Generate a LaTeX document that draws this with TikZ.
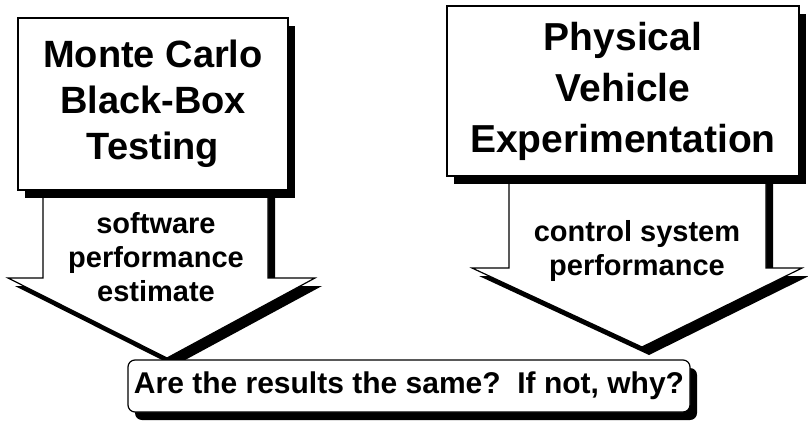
\documentclass[tikz,border=0pt]{standalone}
\usepackage{fontspec}
\setmainfont{Liberation Sans}

\begin{document}
\begin{tikzpicture}[x=1pt, y=-1pt,
  dropfill/.style={fill=black, shift={(7,8)}},
  box/.style={draw, line width=1.2pt, fill=white, align=center, inner sep=0pt},
  arrowbody/.style={draw, line width=1.2pt, fill=white, line join=miter},
  big/.style={font=\fontsize{38}{46}\selectfont\bfseries},
  lbl/.style={align=center, font=\fontsize{29}{34}\selectfont\bfseries}]
  \useasboundingbox (0,0) rectangle (808,428);
  % block arrows first, the boxes sit on top of their shafts
  \path[dropfill] (43,185) -- (268,185) -- (268,278) -- (315,278)
    -- (167,358) -- (8,278) -- (43,278) -- cycle;
  \path[arrowbody] (43,185) -- (268,185) -- (268,278) -- (315,278)
    -- (167,358) -- (8,278) -- (43,278) -- cycle;
  \path[dropfill] (509,170) -- (766,170) -- (766,268) -- (802,268)
    -- (642,347) -- (472,268) -- (509,268) -- cycle;
  \path[arrowbody] (509,170) -- (766,170) -- (766,268) -- (802,268)
    -- (642,347) -- (472,268) -- (509,268) -- cycle;
  \node[lbl] (swp) at (156,257) {software\\performance\\estimate};
  \node[lbl] (csp) at (637,251) {control system\\performance};
  % boxes with their shadows
  \path[dropfill] (18,18) rectangle (288,190);
  \node[box, big, minimum width=270pt, minimum height=172pt] (mc) at (153,104)
    {Monte Carlo\\Black-Box\\Testing};
  \path[dropfill] (447,6) rectangle (799,176);
  \node[box, font=\fontsize{39}{51}\selectfont\bfseries,
        minimum width=352pt, minimum height=170pt] (pve) at (623,91)
    {Physical\\Vehicle\\Experimentation};
  \path[dropfill, rounded corners=7pt] (128,360) rectangle (690,412);
  \node[box, rounded corners=7pt, font=\fontsize{30}{34}\selectfont\bfseries,
        minimum width=562pt, minimum height=52pt] (q) at (409,386)
    {Are the results the same?\ \ If not, why?};
\end{tikzpicture}
\end{document}
